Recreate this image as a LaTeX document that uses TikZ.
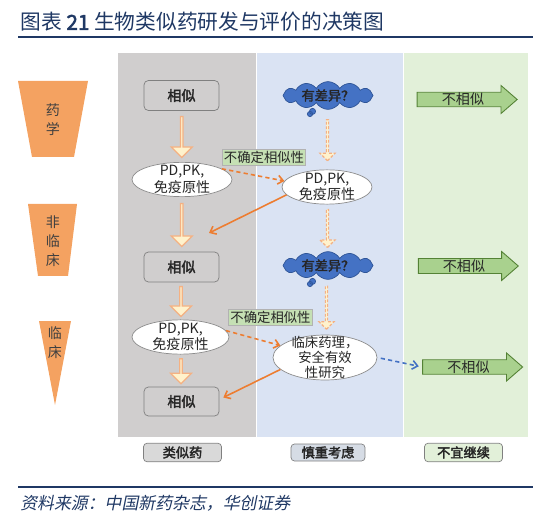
\documentclass[tikz,border=0pt]{standalone}
\usepackage{fontspec}
\setmainfont{Noto Sans CJK SC}[AutoFakeBold=2.5,AutoFakeSlant=0.2]
\usetikzlibrary{arrows.meta,calc,shapes.geometric,shapes.arrows,shapes.symbols,shapes.callouts}
\definecolor{hcnavy}{HTML}{1F3864}
\definecolor{colgray}{HTML}{D0CECE}
\definecolor{colblue}{HTML}{DAE3F3}
\definecolor{colgreen}{HTML}{E2F0D9}
\definecolor{hcorange}{HTML}{ED7D31}
\definecolor{trapfill}{HTML}{F4A261}
\definecolor{arrowfill}{HTML}{FFF2CC}
\definecolor{arrowline}{HTML}{F4B183}
\definecolor{cloudblue}{HTML}{4472C4}
\definecolor{clouddark}{HTML}{2F5597}
\definecolor{leafgreen}{HTML}{A9D18E}
\definecolor{darkgreen}{HTML}{548235}
\definecolor{tagfill}{HTML}{C5E0B4}
\definecolor{labgray}{HTML}{D9D9D9}
\definecolor{labblue}{HTML}{D6DCE5}
\definecolor{inktext}{HTML}{262626}
\tikzset{
  simbox/.style  = {draw=black!50, fill=colgray, rounded corners=2.5pt, minimum width=1.5cm,
                    minimum height=0.6cm, inner sep=0pt, font=\fontsize{8}{9}\selectfont\bfseries},
  test/.style    = {draw=black!45, fill=white, ellipse, inner xsep=0pt, inner ysep=-1pt,
                    align=center, font=\fontsize{8}{7.4}\selectfont},
  doubt/.style   = {cloud callout, cloud puffs=12, cloud puff arc=120, cloud ignores aspect,
                    callout pointer segments=2, callout pointer start size=5pt and 4pt,
                    callout pointer end size=3pt and 3pt,
                    draw=clouddark, fill=cloudblue, minimum width=1.8cm, minimum height=0.5cm,
                    inner sep=0pt, font=\fontsize{7.5}{9}\selectfont\bfseries},
  down/.style    = {single arrow, rotate=-90, draw=arrowline, fill=arrowfill, line width=0.7pt,
                    inner sep=0pt, minimum width=0.42cm, single arrow head extend=0.1cm},
  maybe/.style   = {down, dashed, dash pattern=on 1.6pt off 1pt, minimum width=0.3cm,
                    single arrow head extend=0.07cm},
  stop/.style    = {single arrow, draw=darkgreen, fill=leafgreen, line width=0.5pt, inner sep=0pt,
                    minimum height=2cm, minimum width=0.56cm, single arrow head extend=0.13cm,
                    single arrow tip angle=82, font=\fontsize{8}{9}\selectfont},
  tag/.style     = {draw=black!30, fill=tagfill, inner sep=1pt, minimum height=0.31cm,
                    font=\fontsize{7.6}{8}\selectfont},
  lab/.style     = {draw=black!50, rounded corners=2pt, minimum width=1.56cm, minimum height=0.37cm,
                    inner sep=0pt, font=\fontsize{7.5}{9}\selectfont\bfseries},
  stage/.style   = {align=center, text=black!75, font=\fontsize{8}{10.8}\selectfont},
  back/.style    = {-{Straight Barb[length=3pt,width=5pt]}, hcorange, line width=0.9pt},
  retry/.style   = {back, dashed, dash pattern=on 2.4pt off 1.8pt},
  every node/.style = {text=inktext},
}

\begin{document}
\begin{tikzpicture}[x=0.02cm,y=-0.02cm]
  \useasboundingbox (0,0) rectangle (551,520);
  % title and rules
  \node[anchor=west, text=hcnavy, font=\fontsize{11.8}{13}\selectfont, inner sep=0pt] (title) at (20,22)
    {图表 \textbf{21} 生物类似药研发与评价的决策图};
  \draw[hcnavy, line width=1.3pt] (18,37) -- (533,37);
  \draw[hcnavy, line width=1.3pt] (18,487) -- (533,487);
  \node[anchor=west, text=hcnavy, font=\fontsize{9.6}{11}\selectfont\itshape, inner sep=0pt] (source) at (20,503)
    {资料来源：中国新药杂志，华创证券};
  % three columns
  \fill[colgray] (118,53) rectangle (256,437);
  \fill[colblue] (257,53) rectangle (403,437);
  \fill[colgreen] (404,53) rectangle (528,437);
  % stage markers on the left
  \fill[trapfill] (18,81) -- (88,81) -- (74,157) -- (32,157) -- cycle;
  \fill[trapfill] (28,204) -- (77,204) -- (68,276) -- (38,276) -- cycle;
  \fill[trapfill] (39,321) -- (71,321) -- (55,405) -- cycle;
  \node[stage] (pharm) at (53,120) {药\\学};
  \node[stage] (preclin) at (53,241) {非\\临\\床};
  \node[stage] (clin) at (55,343) {临\\床};
  % similar path
  \node[simbox] (sim1) at (181.5,95.5) {相似};
  \node[test, minimum width=2cm, minimum height=0.66cm] (pd1) at (182,179.5) {PD,PK,\\免疫原性};
  \node[simbox] (sim2) at (181.5,267) {相似};
  \node[test, minimum width=1.94cm, minimum height=0.64cm] (pd2) at (180.5,337) {PD,PK,\\免疫原性};
  \node[simbox, minimum height=0.58cm] (sim3) at (181.5,401.5) {相似};
  \node[down, minimum height=0.82cm] (a1) at ($(sim1.south)!0.5!(pd1.north)$) {};
  \node[down, minimum height=0.86cm] (a2) at ($(pd1.south)!0.5!(sim2.north)$) {};
  \node[down, minimum height=0.6cm] (a3) at ($(sim2.south)!0.5!(pd2.north)$) {};
  \node[down, minimum height=0.5cm] (a4) at ($(pd2.south)!0.5!(sim3.north)$) {};
  % careful path
  \node[doubt, callout absolute pointer={(310,114)}] (diff1) at (328,95.5) {有差异？};
  \node[test, minimum width=1.8cm, minimum height=0.6cm] (pdb) at (327,187) {PD,PK,\\免疫原性};
  \node[doubt, callout absolute pointer={(310,284)}] (diff2) at (328,265.5) {有差异？};
  \node[test, minimum width=2.08cm, minimum height=0.9cm, inner ysep=-4pt, font=\fontsize{7.6}{8.5}\selectfont]
    (study) at (325,357.5) {临床药理，\\安全有效\\性研究};
  \node[maybe, minimum height=0.82cm] (d1) at ($(diff1.south)!0.5!(pdb.north)$) {};
  \node[maybe, minimum height=0.76cm] (d2) at ($(pdb.south)!0.5!(diff2.north)$) {};
  \node[maybe, minimum height=0.86cm] (d3) at ($(diff2.south)!0.5!(study.north)$) {};
  % uncertain similarity
  \node[tag] (unsure1) at (264,157) {不确定相似性};
  \node[tag] (unsure2) at (270.5,317.5) {不确定相似性};
  \coordinate (back1) at (209,233);
  \draw[retry] (pd1.15) -- (pdb.172);
  \draw[back] (pdb.191) -- (back1);
  \draw[retry] (pd2.8) -- (study.165);
  \draw[back] (study.195) -- ([shift={(4,-4)}]sim3.east);
  % stop
  \node[stop] (no1) at (463,99.5) {不相似};
  \node[stop, minimum width=0.58cm] (no2) at (464,266) {不相似};
  \node[stop] (no3) at (468.5,367) {不相似};
  \draw[-{Straight Barb[length=3pt,width=5pt]}, cloudblue, line width=0.9pt, dashed, dash pattern=on 2.4pt off 1.8pt,
    shorten <=2pt, shorten >=2pt] (study.east) -- (no3.west);
  % column labels
  \node[lab, fill=labgray] (lab1) at (182.5,452.5) {类似药};
  \node[lab, fill=labblue, minimum width=1.48cm, minimum height=0.34cm] (lab2) at (328,452.5) {慎重考虑};
  \node[lab, fill=colgreen] (lab3) at (463.5,452.5) {不宜继续};
\end{tikzpicture}
\end{document}
